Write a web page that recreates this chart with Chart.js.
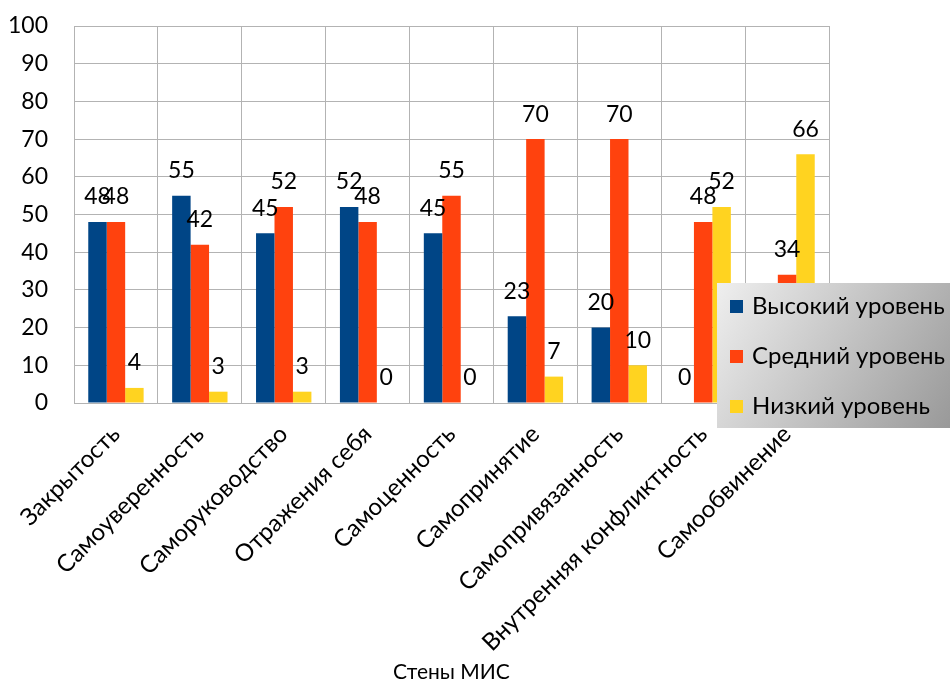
<!DOCTYPE html>
<html>
<head>
<meta charset="utf-8">
<script src="https://cdn.jsdelivr.net/npm/chart.js@4"></script>
<style>
  html, body { margin: 0; padding: 0; background: #fff; }
  canvas { display: block; }
</style>
</head>
<body>
<canvas id="chartMis" width="950" height="689"></canvas>
<script>
// ============================================================
//  Datos
// ============================================================
const categorias = [
    'Закрытость',
    'Самоуверенность',
    'Саморуководство',
    'Отражения себя',
    'Самоценность',
    'Самопринятие',
    'Самопривязанность',
    'Внутренняя конфликтность',
    'Самообвинение'
];
const nombresSeries = ['Высокий уровень', 'Средний уровень', 'Низкий уровень'];
const alto  = [48, 55, 45, 52, 45, 23, 20, 0, 0];
const medio = [48, 42, 52, 48, 55, 70, 70, 48, 34];
const bajo  = [4, 3, 3, 0, 0, 7, 10, 52, 66];
const ticksY = [0, 10, 20, 30, 40, 50, 60, 70, 80, 90, 100];

const colores = ['#004586', '#ff420e', '#ffd320'];
const FUENTE = 'Lato, "DejaVu Sans", sans-serif';
const GRIS = '#b3b3b3';

// ============================================================
//  Etiquetas de valor encima de cada barra
// ============================================================
const etiquetasValor = {
    id: 'etiquetasValor',
    afterDatasetsDraw(chart) {
        const ctx = chart.ctx;
        ctx.save();
        ctx.font = '23px ' + FUENTE;
        ctx.fillStyle = '#000';
        ctx.textAlign = 'center';
        ctx.textBaseline = 'middle';
        chart.data.datasets.forEach((ds, i) => {
            chart.getDatasetMeta(i).data.forEach((bar, j) => {
                ctx.fillText(String(ds.data[j]), bar.x, bar.y - 25);
            });
        });
        ctx.restore();
    }
};

// ============================================================
//  Leyenda con fondo degradado (encima del gráfico, a la derecha)
// ============================================================
const leyendaCaja = {
    id: 'leyendaCaja',
    afterDraw(chart) {
        const ctx = chart.ctx;
        const x = 717, y = 283, w = 250, h = 145;
        ctx.save();
        const grad = ctx.createLinearGradient(x, y, x + 233, y + h);
        grad.addColorStop(0, '#efefef');
        grad.addColorStop(1, '#999999');
        ctx.fillStyle = grad;
        ctx.fillRect(x, y, w, h);

        ctx.font = '24px ' + FUENTE;
        ctx.textAlign = 'left';
        ctx.textBaseline = 'middle';
        chart.data.datasets.forEach((ds, i) => {
            const cy = y + 23 + i * 50;
            ctx.fillStyle = ds.backgroundColor;
            ctx.fillRect(x + 13, cy - 6, 13, 13);
            ctx.fillStyle = '#000';
            ctx.fillText(ds.label, x + 35, cy);
        });
        ctx.restore();
    }
};

// ============================================================
//  Gráfico
// ============================================================
new Chart(document.getElementById('chartMis').getContext('2d'), {
    type: 'bar',
    data: {
        labels: categorias,
        datasets: [alto, medio, bajo].map((serie, i) => ({
            label: nombresSeries[i],
            data: serie,
            backgroundColor: colores[i],
            borderWidth: 0
        }))
    },
    options: {
        responsive: false,
        animation: false,
        categoryPercentage: 0.66,
        barPercentage: 1,
        layout: { padding: { left: 0, top: 26, right: 121, bottom: 0 } },
        plugins: {
            legend: { display: false },
            tooltip: { enabled: false }
        },
        scales: {
            x: {
                grid: { color: GRIS, drawTicks: false },
                border: { color: GRIS },
                ticks: {
                    color: '#000',
                    font: { size: 24, family: FUENTE },
                    minRotation: 45,
                    maxRotation: 45,
                    autoSkip: false,
                    padding: 17
                },
                title: {
                    display: true,
                    text: 'Стены МИС',
                    color: '#000',
                    font: { size: 21, family: FUENTE },
                    padding: { top: 0, bottom: 4 }
                },
                afterFit: s => { s.height = 286; }
            },
            y: {
                min: 0,
                max: 100,
                grid: { color: GRIS, drawTicks: false },
                border: { color: GRIS },
                afterBuildTicks: s => { s.ticks = ticksY.map(v => ({ value: v })); },
                ticks: {
                    color: '#000',
                    font: { size: 23, family: FUENTE },
                    padding: 26
                },
                afterFit: s => {
                    s.width = 74;
                    s.paddingTop = 0;
                    s.paddingBottom = 0;
                }
            }
        }
    },
    plugins: [etiquetasValor, leyendaCaja]
});
</script>
</body>
</html>
